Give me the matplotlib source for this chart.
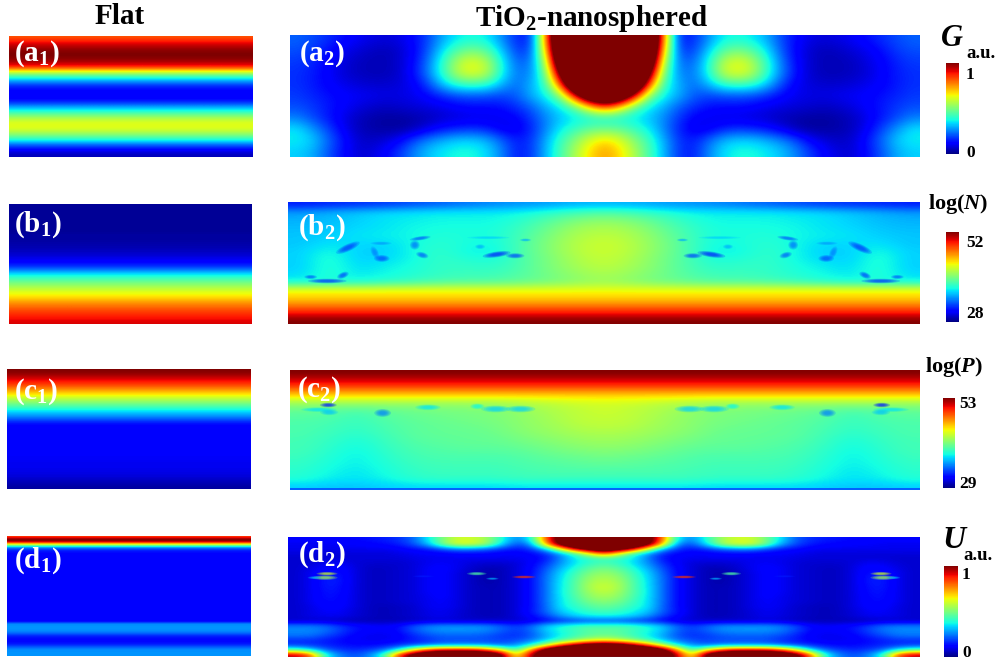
import numpy as np
import matplotlib
matplotlib.use("Agg")
import matplotlib.pyplot as plt
from matplotlib.patches import Ellipse
from matplotlib.cm import ScalarMappable
from matplotlib.colors import Normalize

plt.rcParams['font.family'] = ['Liberation Serif', 'DejaVu Serif']
plt.rcParams['font.weight'] = 'bold'
plt.rcParams['mathtext.fontset'] = 'custom'
plt.rcParams['mathtext.rm'] = 'Liberation Serif:bold'
plt.rcParams['mathtext.bf'] = 'Liberation Serif:bold'
plt.rcParams['mathtext.it'] = 'Liberation Serif:italic:bold'
plt.rcParams['mathtext.default'] = 'rm'

# ---------- flat device profiles (top to bottom), normalised 0-1 on the jet scale
a1_profile = [.82,.90,.96,1.0,1.0,.96,.88,.62,.42,.27,.16,.12,.11,.14,.26,.38,.50,.60,.63,.60,.50,.38,.22,.12,.05]
b1_profile = [.02,.02,.02,.02,.02,.02,.03,.03,.04,.05,.07,.10,.14,.22,.34,.43,.50,.57,.63,.68,.75,.80,.85,.88,.92]
c1_profile = [1.0,.97,.90,.84,.75,.66,.56,.48,.38,.30,.22,.13,.11,.11,.11,.11,.11,.11,.11,.10,.10,.09,.08,.05,.03]
d1_profile = [.85,1.0,1.0,.80,.55,.32,.20,.15,.13,
              .12,.12,.12,.12,.12,.12,.12,.12,.12,.12,.12,.12,.12,.12,.12,.12,.12,.12,
              .12,.12,.12,.12,.12,.12,.12,.12,.12,.12,.12,.12,.12,.12,.12,.12,.12,
              .26,.27,.27,.27,.26,.22,.17,.14,.13,.13,.14,.17,.22,.26,.27,.27,.27]

# ---------- nanosphered panels: left half, left edge to centre line (mirrored in the device)
a2_half = [
 [.22,.20,.17,.14,.11,.09,.08,.09,.13,.20,.30,.36,.38,.36,.26,.16,.16,.80,1.4,1.5,1.5,1.5],
 [.20,.18,.14,.10,.08,.06,.05,.07,.12,.22,.36,.46,.50,.45,.32,.18,.20,.70,1.4,1.5,1.5,1.5],
 [.18,.16,.12,.09,.06,.05,.05,.07,.13,.25,.42,.57,.63,.56,.37,.22,.24,.58,1.3,1.5,1.5,1.5],
 [.17,.15,.12,.08,.06,.05,.05,.07,.14,.26,.42,.58,.63,.57,.37,.24,.26,.50,1.1,1.5,1.5,1.5],
 [.17,.15,.12,.10,.08,.07,.07,.08,.11,.20,.33,.41,.43,.40,.30,.23,.30,.42,.85,1.4,1.5,1.5],
 [.18,.16,.14,.12,.11,.10,.09,.09,.10,.13,.17,.20,.21,.20,.19,.22,.30,.37,.52,.95,1.3,1.4],
 [.20,.18,.15,.12,.09,.07,.06,.07,.08,.09,.10,.12,.13,.13,.14,.17,.22,.30,.36,.48,.70,.85],
 [.25,.20,.15,.10,.06,.04,.03,.03,.04,.05,.07,.08,.09,.09,.10,.12,.18,.26,.32,.35,.37,.37],
 [.35,.28,.20,.12,.06,.04,.03,.03,.05,.10,.14,.16,.17,.15,.10,.10,.16,.26,.36,.42,.47,.48],
 [.36,.33,.24,.15,.08,.06,.08,.12,.20,.26,.30,.33,.33,.30,.22,.15,.18,.30,.42,.52,.62,.68],
 [.33,.30,.22,.14,.08,.08,.12,.18,.26,.32,.36,.38,.38,.34,.25,.15,.18,.31,.44,.56,.68,.74],
]
b2_half = [
 [.15,.16,.17,.18,.20,.22,.24,.26,.27,.28,.30,.30],
 [.28,.30,.32,.34,.35,.36,.36,.36,.37,.40,.43,.45],
 [.30,.31,.33,.35,.36,.37,.37,.37,.40,.45,.50,.52],
 [.31,.32,.34,.35,.37,.38,.38,.38,.42,.48,.54,.56],
 [.32,.33,.35,.36,.37,.39,.38,.38,.43,.50,.56,.58],
 [.32,.35,.34,.34,.37,.40,.38,.37,.44,.51,.57,.60],
 [.33,.38,.33,.33,.37,.41,.37,.36,.44,.51,.57,.60],
 [.33,.40,.33,.34,.37,.41,.39,.38,.44,.50,.56,.59],
 [.33,.40,.34,.36,.38,.41,.41,.40,.44,.50,.55,.58],
 [.34,.40,.35,.37,.39,.41,.42,.42,.45,.49,.53,.56],
 [.37,.38,.38,.40,.42,.44,.45,.45,.47,.49,.52,.54],
 [.63,.63,.63,.63,.63,.63,.63,.63,.63,.63,.63,.63],
 [.68,.68,.68,.68,.68,.68,.68,.68,.68,.68,.68,.68],
 [.77,.77,.77,.77,.77,.77,.77,.77,.77,.77,.77,.77],
 [.88,.88,.88,.88,.88,.88,.88,.88,.88,.88,.88,.88],
 [1.0,1.0,1.0,1.0,1.0,1.0,1.0,1.0,1.0,1.0,1.0,1.0],
]
c2_half = [
 [1.0,1.0,1.0,1.0,1.0,1.0,1.0,1.0,1.0,1.0,1.0,1.0],
 [.93,.93,.93,.93,.93,.93,.93,.93,.93,.93,.93,.93],
 [.82,.82,.82,.82,.82,.82,.82,.82,.82,.82,.82,.82],
 [.68,.68,.68,.68,.68,.68,.68,.68,.68,.68,.68,.68],
 [.54,.54,.54,.54,.54,.54,.54,.54,.56,.58,.60,.61],
 [.47,.46,.44,.47,.48,.49,.50,.50,.53,.56,.58,.60],
 [.45,.44,.42,.45,.47,.48,.49,.50,.52,.55,.58,.59],
 [.44,.43,.41,.44,.46,.47,.48,.49,.52,.54,.57,.58],
 [.44,.42,.40,.43,.46,.47,.47,.48,.51,.53,.55,.56],
 [.43,.41,.38,.42,.45,.46,.47,.47,.49,.51,.53,.54],
 [.43,.40,.37,.41,.44,.45,.46,.46,.47,.49,.51,.52],
 [.42,.39,.36,.40,.43,.44,.44,.44,.45,.47,.48,.49],
 [.41,.38,.36,.39,.42,.43,.43,.43,.44,.45,.46,.47],
 [.40,.37,.35,.38,.41,.42,.42,.42,.43,.44,.44,.44],
 [.39,.36,.35,.37,.40,.41,.41,.41,.42,.42,.42,.42],
 [.33,.32,.32,.33,.34,.34,.34,.34,.35,.35,.35,.35],
]
d2_half = [
 [.12,.12,.12,.13,.13,.14,.15,.17,.22,.35,.50,.60,.60,.55,.40,.25,.35,.80,1.1,1.2,1.2,1.2],
 [.10,.10,.10,.11,.11,.12,.13,.15,.20,.30,.50,.62,.62,.55,.35,.20,.25,.70,1.1,1.25,1.3,1.3],
 [.10,.10,.10,.10,.10,.10,.10,.11,.13,.15,.20,.25,.25,.22,.17,.14,.17,.30,.60,.95,1.1,1.2],
 [.08,.08,.08,.08,.08,.08,.08,.09,.10,.11,.11,.12,.12,.12,.11,.11,.12,.16,.27,.40,.62,.80],
 [.07,.07,.08,.08,.08,.08,.08,.08,.09,.10,.10,.10,.10,.10,.10,.10,.11,.14,.25,.36,.40,.42],
 [.07,.08,.10,.11,.08,.07,.07,.07,.08,.10,.11,.10,.08,.07,.07,.08,.11,.17,.27,.35,.41,.44],
 [.07,.09,.12,.13,.09,.06,.06,.07,.08,.11,.12,.10,.07,.05,.05,.08,.12,.20,.30,.39,.46,.49],
 [.07,.10,.14,.14,.09,.06,.06,.07,.08,.11,.12,.09,.06,.04,.05,.08,.12,.22,.33,.42,.50,.53],
 [.07,.10,.15,.15,.09,.06,.06,.07,.08,.11,.12,.09,.06,.04,.05,.08,.13,.23,.34,.44,.53,.56],
 [.07,.10,.15,.15,.09,.06,.06,.07,.08,.11,.12,.09,.06,.04,.05,.08,.13,.23,.35,.45,.55,.58],
 [.07,.10,.15,.14,.09,.06,.06,.07,.08,.11,.12,.09,.06,.05,.05,.08,.13,.23,.35,.45,.56,.60],
 [.07,.10,.14,.14,.09,.06,.06,.07,.08,.11,.12,.09,.06,.05,.05,.08,.13,.23,.36,.45,.54,.58],
 [.07,.10,.14,.13,.09,.06,.06,.07,.08,.10,.12,.09,.06,.05,.05,.08,.13,.23,.35,.44,.52,.55],
 [.07,.10,.13,.13,.09,.06,.06,.07,.08,.10,.11,.09,.06,.05,.05,.08,.13,.23,.35,.42,.49,.51],
 [.07,.09,.12,.12,.09,.06,.05,.06,.07,.10,.11,.09,.06,.05,.05,.08,.13,.22,.35,.40,.45,.47],
 [.07,.09,.11,.11,.08,.06,.05,.06,.07,.09,.10,.08,.06,.05,.05,.08,.14,.22,.32,.37,.41,.43],
 [.07,.09,.10,.10,.08,.06,.05,.06,.07,.09,.10,.08,.06,.05,.05,.08,.12,.18,.27,.33,.36,.37],
 [.07,.07,.07,.06,.05,.05,.05,.05,.06,.07,.08,.07,.07,.07,.07,.07,.09,.12,.16,.18,.20,.20],
 [.25,.25,.23,.18,.14,.12,.11,.13,.20,.25,.27,.27,.27,.26,.22,.18,.22,.32,.38,.42,.44,.44],
 [.26,.26,.24,.19,.14,.12,.11,.13,.20,.25,.27,.27,.27,.26,.22,.18,.22,.32,.38,.42,.46,.46],
 [.24,.24,.20,.16,.12,.10,.10,.11,.16,.20,.22,.22,.22,.21,.18,.17,.20,.29,.36,.42,.46,.48],
 [.17,.17,.15,.13,.11,.10,.10,.12,.15,.17,.20,.20,.20,.20,.19,.20,.24,.32,.42,.50,.58,.62],
 [.18,.17,.16,.14,.13,.13,.14,.16,.18,.22,.25,.26,.26,.25,.22,.26,.36,.56,.80,1.0,1.15,1.2],
 [.45,.35,.22,.18,.16,.18,.22,.35,.65,.85,.95,.95,.95,.85,.65,.40,.75,1.1,1.3,1.3,1.3,1.3],
 [.95,.85,.40,.25,.20,.25,.40,.85,1.1,1.2,1.2,1.2,1.2,1.2,1.1,.60,.95,1.2,1.3,1.3,1.3,1.3],
]

# ---------- small localised spots around the nanospheres: x, y, width, height, angle, value
b2_spots = [
 (170,158,38,12,-30,.18),(80,245,18,7,0,.22),(120,257,55,8,0,.18),(158,240,18,10,-30,.20),
 (250,145,30,6,0,.28),(235,172,10,22,-20,.25),(252,190,22,12,0,.20),(345,130,30,7,-10,.22),
 (332,150,14,16,0,.24),(350,180,18,10,20,.22),(490,155,14,8,0,.30),(530,178,40,10,-10,.16),
 (575,182,26,9,0,.20),(510,128,60,5,0,.33),(600,135,16,5,0,.30),
]
c2_spots = [
 (95,142,50,8,0,.35),(118,128,24,8,0,.15),(120,150,26,10,0,.32),(250,152,24,14,0,.25),
 (360,135,36,10,0,.35),(480,132,20,10,0,.37),(525,140,42,12,0,.33),(585,140,42,12,0,.33),
]
d2_spots = [
 (115,130,30,6,0,.60),(110,142,36,8,0,.55),(85,142,20,5,0,.30),(480,130,28,6,0,.45),
 (595,140,34,5,0,.85),(518,145,18,4,0,.30),(350,138,30,4,0,.15),
]

# ---------- colour bars
bar_limits = [(0, 1), (28, 52), (29, 53), (0, 1)]
bar_low_labels = ['0', '28', '29', '0']
bar_high_labels = ['1', '52', '53', '1']

W, H = 1000, 664
cmap = plt.get_cmap('jet')
norm = Normalize(0, 1)
fig = plt.figure(figsize=(W / 100, H / 100), dpi=100, facecolor='white')


def axes_px(x0, y0, x1, y1):
    ax = fig.add_axes([x0 / W, 1 - y1 / H, (x1 - x0) / W, (y1 - y0) / H])
    ax.set_axis_off()
    return ax


def mirrored(half):
    g = np.array(half)
    return np.hstack([g, g[:, -2::-1]])


def field(box, grid, extent=None):
    ax = axes_px(*box)
    g = np.array(grid)
    if g.ndim == 1:
        g = np.column_stack([g, g])
    ax.imshow(g, cmap=cmap, norm=norm, aspect='auto', interpolation='bicubic',
              interpolation_stage='data', extent=extent or (0, 1, 1, 0))
    return ax


def spots(ax, items, centre=790):
    # concentric translucent ellipses give the blurred look of the reference
    for x, y, w, h, ang, v in items:
        for xc, a in ((x, ang), (2 * centre - x, -ang)):
            for s in (1.7, 1.4, 1.15, .9, .65):
                ax.add_patch(Ellipse((xc, y), w * s, h * s, angle=a, color=cmap(v), alpha=.24, lw=0))


field((9, 36, 253, 157), a1_profile)
field((9, 204, 252, 324), b1_profile)
field((7, 369, 251, 489), c1_profile)
field((7, 536, 251, 656), d1_profile)

field((290, 35, 920, 157), mirrored(a2_half))
ax_b = field((288, 202, 920, 324), mirrored(b2_half), extent=(25, 1555, 385, 22))
spots(ax_b, b2_spots)
ax_c = field((290, 370, 920, 490), mirrored(c2_half), extent=(25, 1555, 385, 22))
spots(ax_c, c2_spots)
ax_c.axhline(383, color=cmap(.2), lw=1.2)
ax_d = field((288, 537, 920, 657), mirrored(d2_half), extent=(20, 1560, 380, 20))
spots(ax_d, d2_spots)
ax_d.axhline(379, color=cmap(.3), lw=.8)

boxes = [(946, 63, 959, 154), (946, 232, 959, 322), (943, 398, 955, 488), (944, 566, 958, 657)]
for box, lim in zip(boxes, bar_limits):
    cax = fig.add_axes([box[0] / W, 1 - box[3] / H, (box[2] - box[0]) / W, (box[3] - box[1]) / H])
    cb = fig.colorbar(ScalarMappable(Normalize(*lim), cmap), cax=cax)
    cb.set_ticks([])
    cb.outline.set_visible(False)


def tx(x, y, s, size, color='black', ha='left', **kw):
    fig.text(x / W, 1 - y / H, s, fontsize=size, color=color, ha=ha, va='center',
             fontweight='bold', **kw)


tx(120, 17, 'Flat', 21, ha='center')
tx(591, 18, 'TiO$_2$-nanosphered', 21, ha='center')

panel_labels = [(14, 54, 'a'), (299, 54, 'a2'), (14, 225, 'b'), (298, 228, 'b2'),
                (14, 392, 'c'), (297, 390, 'c2'), (14, 561, 'd'), (298, 555, 'd2')]
for x, y, k in panel_labels:
    idx = '2' if k.endswith('2') else '1'
    tx(x, y, f'({k[0]}$_{idx}$)', 21, color='white')

tx(941, 38, 'G', 22, style='italic')
tx(966, 54, 'a.u.', 13.5)
tx(928, 204, 'log($\\mathit{N}$)', 16)
tx(925, 367, 'log($\\mathit{P}$)', 16)
tx(942, 541, 'U', 23, style='italic')
tx(963, 556, 'a.u.', 13.5)

low_y = [153, 314, 484, 653]
high_y = [75, 243, 404, 575]
low_x = [966, 966, 959, 962]
for i in range(4):
    tx(low_x[i], low_y[i], bar_low_labels[i], 12.5)
    tx(low_x[i], high_y[i], bar_high_labels[i], 12.5)

fig.savefig('out.png', dpi=100, facecolor='white')
